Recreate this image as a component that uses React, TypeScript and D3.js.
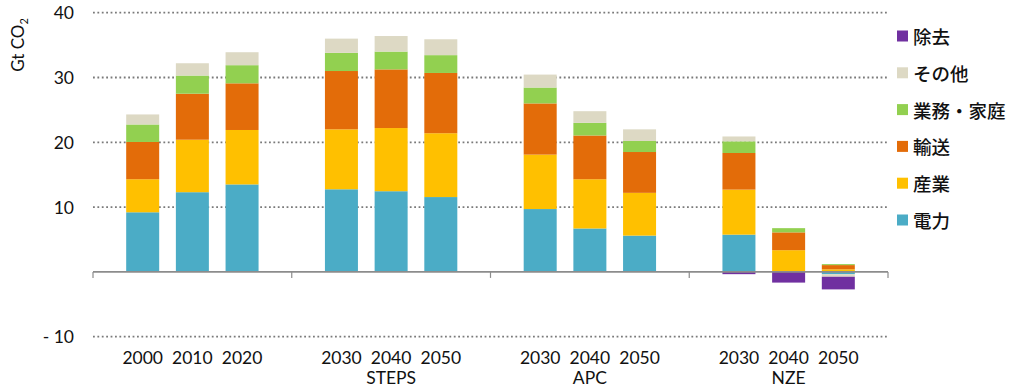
import React from "react";
import * as d3 from "d3";

const groups = ["", "STEPS", "APC", "NZE"];
const years = [
  ["2000", "2010", "2020"],
  ["2030", "2040", "2050"],
  ["2030", "2040", "2050"],
  ["2030", "2040", "2050"],
];
const seriesNames = ["電力", "産業", "輸送", "業務・家庭", "その他", "除去"];
const colors = ["#4bacc6", "#ffc000", "#e36c09", "#92d050", "#ddd9c4", "#7030a0"];

const power = [9.2, 12.3, 13.5, 12.75, 12.45, 11.55, 9.7, 6.7, 5.6, 5.75, 0.1, -0.35];
const industry = [5.1, 8.1, 8.4, 9.25, 9.75, 9.85, 8.4, 7.6, 6.6, 6.95, 3.25, 0.4];
const transport = [5.75, 7.1, 7.2, 9.0, 9.05, 9.3, 7.9, 6.75, 6.3, 5.65, 2.75, 0.65];
const buildings = [2.7, 2.8, 2.8, 2.8, 2.75, 2.75, 2.45, 1.95, 1.7, 1.8, 0.65, 0.15];
const other = [1.55, 1.9, 2.0, 2.2, 2.4, 2.45, 2.0, 1.8, 1.8, 0.75, 0, -0.4];
const removal = [0, 0, 0, 0, 0, 0, 0, 0, 0, -0.35, -1.65, -1.95];

const yTicks = [40, 30, 20, 10, -10];
const yTickLabels = ["40", "30", "20", "10", "- 10"];

const seriesValues = [power, industry, transport, buildings, other, removal];

export default function App() {
  const width = 1024;
  const height = 391;
  const left = 93;
  const right = 888;

  const y = d3.scaleLinear().domain([-10, 40]).range([336.7, 12.7]);
  const xGroup = d3
    .scaleBand<number>()
    .domain(groups.map((_, i) => i))
    .range([left, right])
    .padding(0);
  const xInner = d3
    .scalePoint<number>()
    .domain([0, 1, 2])
    .range([0, xGroup.bandwidth()])
    .padding(1);
  const barW = 33;

  const rows = power.map((_, i) => {
    const r: Record<string, number> = { idx: i };
    seriesNames.forEach((s, k) => (r[s] = seriesValues[k][i]));
    return r;
  });
  const stacked = d3
    .stack<Record<string, number>>()
    .keys(seriesNames)
    .offset(d3.stackOffsetDiverging)(rows);

  const barX = (i: number) => {
    const g = Math.floor(i / 3);
    const j = i % 3;
    return (xGroup(g) as number) + (xInner(j) as number);
  };

  const font = "Lato, 'Open Sans', sans-serif";
  const cjk = "'Noto Sans CJK JP', sans-serif";
  const boundaries = [0, 1, 2, 3].map((g) => xGroup(g) as number).concat([right]);

  return (
    <svg
      width={width}
      height={height}
      style={{ position: "absolute", left: 0, top: 0, background: "#fff" }}
    >
      {/* gridlines */}
      {yTicks.map((t) => (
        <line
          key={t}
          x1={left}
          x2={right}
          y1={y(t)}
          y2={y(t)}
          stroke="#7a7a7a"
          strokeWidth={1.8}
          strokeDasharray="1.8 2.6"
        />
      ))}
      {/* y labels */}
      {yTicks.map((t, i) => (
        <text
          key={t}
          x={74}
          y={y(t)}
          textAnchor="end"
          dominantBaseline="central"
          fontFamily={font}
          fontSize={17.5}
          fill="#111"
        >
          {yTickLabels[i]}
        </text>
      ))}
      {/* y title */}
      <text
        transform="translate(24,45) rotate(-90)"
        textAnchor="middle"
        fontFamily={font}
        fontSize={17}
        fill="#111"
      >
        Gt CO
        <tspan fontSize={11} dy={4}>
          2
        </tspan>
      </text>
      {/* bars */}
      {stacked.map((layer, k) => (
        <g key={layer.key} fill={colors[k]}>
          {layer.map((d, i) => {
            const y0 = y(Math.max(d[0], d[1]));
            const y1 = y(Math.min(d[0], d[1]));
            if (Math.abs(y1 - y0) < 0.01) return null;
            return (
              <rect
                key={i}
                x={barX(i) - barW / 2}
                y={y0}
                width={barW}
                height={y1 - y0}
              />
            );
          })}
        </g>
      ))}
      {/* zero axis */}
      <line x1={left} x2={right} y1={y(0)} y2={y(0)} stroke="#8c8c8c" strokeWidth={1.6} />
      {boundaries.map((bx, i) => (
        <line key={i} x1={bx} x2={bx} y1={y(0)} y2={y(0) + 6} stroke="#8c8c8c" strokeWidth={1.2} />
      ))}
      {/* x labels */}
      {power.map((_, i) => (
        <text
          key={i}
          x={barX(i)}
          y={363.5}
          textAnchor="middle"
          fontFamily={font}
          fontSize={17.5}
          fill="#111"
        >
          {years[Math.floor(i / 3)][i % 3]}
        </text>
      ))}
      {groups.map((g, i) => (
        <text
          key={i}
          x={(xGroup(i) as number) + xGroup.bandwidth() / 2}
          y={384}
          textAnchor="middle"
          fontFamily={font}
          fontSize={17.5}
          fill="#111"
        >
          {g}
        </text>
      ))}
      {/* legend */}
      {seriesNames
        .map((s, k) => ({ s, k }))
        .reverse()
        .map(({ s, k }, i) => {
          const cy = 36 + i * 36.8;
          return (
            <g key={s}>
              <rect x={897} y={cy - 5.5} width={11} height={11} fill={colors[k]} />
              <text
                x={913}
                y={cy}
                dominantBaseline="central"
                fontFamily={cjk}
                fontSize={18.5}
                fontWeight={500}
                fill="#111"
              >
                {s}
              </text>
            </g>
          );
        })}
    </svg>
  );
}
